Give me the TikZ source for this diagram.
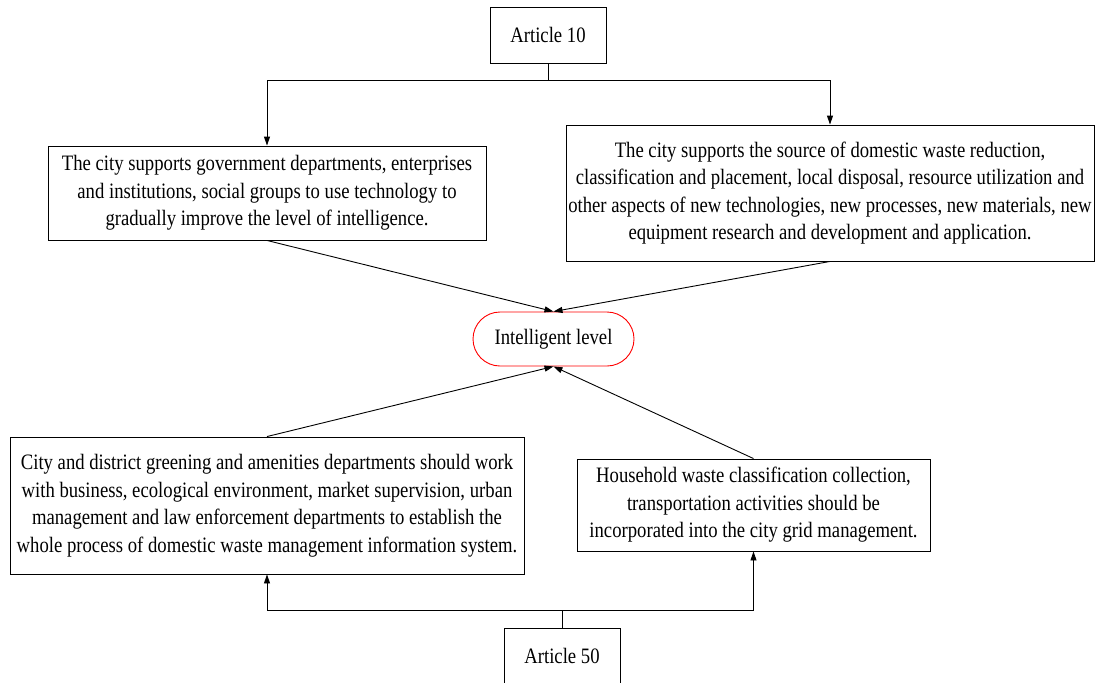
\documentclass[tikz,border=0pt]{standalone}
\usepackage{fontspec}
\setmainfont{Liberation Serif}[FakeStretch=0.85]
\usetikzlibrary{arrows.meta}
\begin{document}
\begin{tikzpicture}[x=1pt,y=-1pt,
  every node/.style={font=\fontsize{22}{27.5}\selectfont, align=center, inner sep=0pt},
  box/.style={draw=black, line width=0.9pt, fill=white},
  goal/.style={draw=red, line width=0.9pt, rounded corners=27pt},
  link/.style={draw=black, line width=0.9pt},
  arr/.style={link, -{Triangle[length=9pt,width=6pt]}}]
\clip (0,0) rectangle (1096,683);
\fill[white] (0,0) rectangle (1096,683);

% articles
\node[box, minimum width=116pt, minimum height=56pt] (a10) at (548,35) {Article 10};
\node[box, minimum width=116pt, minimum height=56pt] (a50) at (562,656) {Article 50};

% measures under Article 10
\node[box, minimum width=438pt, minimum height=94pt] (b1) at (267,193)
  {The city supports government departments, enterprises\\
   and institutions, social groups to use technology to\\
   gradually improve the level of intelligence.};
\node[box, minimum width=528pt, minimum height=136pt] (b2) at (830,193)
  {The city supports the source of domestic waste reduction,\\
   classification and placement, local disposal, resource utilization and\\
   other aspects of new technologies, new processes, new materials, new\\
   equipment research and development and application.};

% central goal
\node[goal, minimum width=161pt, minimum height=54pt] (goal) at (553.5,339) {Intelligent level};

% measures under Article 50
\node[box, minimum width=514pt, minimum height=137pt] (b3) at (267,505.5)
  {City and district greening and amenities departments should work\\
   with business, ecological environment, market supervision, urban\\
   management and law enforcement departments to establish the\\
   whole process of domestic waste management information system.};
\node[box, minimum width=353pt, minimum height=92pt] (b4) at (753.5,505)
  {Household waste classification collection,\\
   transportation activities should be\\
   incorporated into the city grid management.};

% junction points
\coordinate (j10) at (548,80);
\coordinate (j50) at (562,610);

% Article 10 branches
\draw[link] (a10.south) -- (j10);
\draw[arr] (j10) -| (b1.north);
\draw[arr] (j10) -| (b2.north);

% Article 50 branches
\draw[link] (a50.north) -- (j50);
\draw[arr] (j50) -| (b3.south);
\draw[arr] (j50) -| (b4.south);

% contributions to the goal
\draw[arr] (b1.south) -- (goal.north);
\draw[arr] (b2.south) -- (goal.north);
\draw[arr] (b3.north) -- (goal.south);
\draw[arr] (b4.north) -- (goal.south);
\end{tikzpicture}
\end{document}
